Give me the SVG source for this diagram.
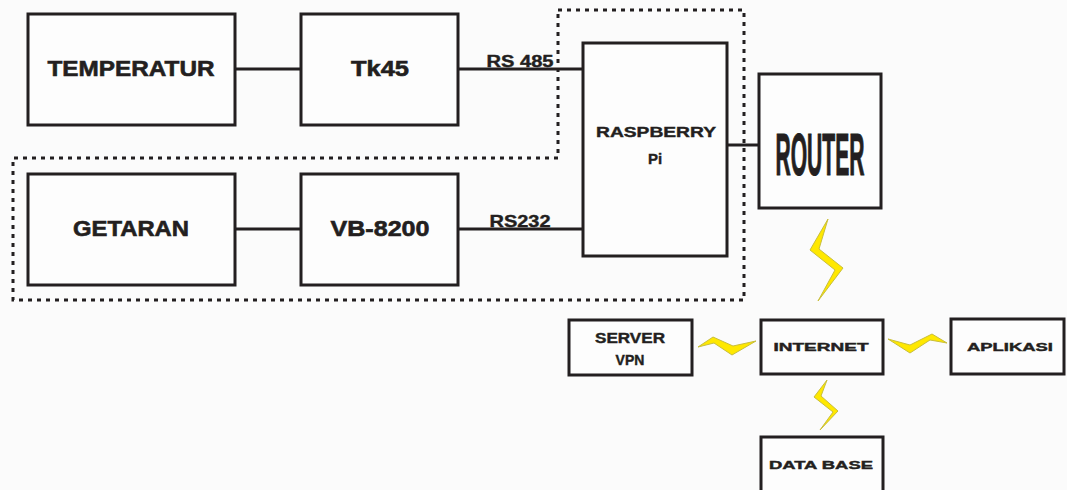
<svg xmlns="http://www.w3.org/2000/svg" width="1067" height="490" viewBox="0 0 1067 490">
<style>
.box{fill:#fdfdfd;stroke:#231f20;stroke-width:3}
.ln{stroke:#231f20;stroke-width:3;fill:none}
.dot{stroke:#231f20;stroke-width:3;fill:none;stroke-dasharray:4 5}
.t{font-family:"Liberation Sans",Arial,sans-serif;font-weight:bold;fill:#231f20;stroke:#231f20;stroke-width:0.6;text-anchor:middle}
.s{stroke-width:0.4}
.bolt{fill:#ffe800;stroke:#c8be3c;stroke-width:1}
</style>
<rect width="1067" height="490" fill="#fbfbfb"/>
<g id="group-boundary">
<path class="dot" d="M558,10 L744,10 L744,300 L13,300 L13,158 L558,158 Z"/>
</g>
<g id="connectors">
<line class="ln" x1="235" y1="69" x2="301" y2="69"/>
<line class="ln" x1="458" y1="69" x2="583" y2="69"/>
<line class="ln" x1="235" y1="229" x2="301" y2="229"/>
<line class="ln" x1="458" y1="229" x2="583" y2="229"/>
<line class="ln" x1="727" y1="145" x2="759" y2="145"/>
<text class="t s" x="520" y="67" font-size="16" textLength="67" lengthAdjust="spacingAndGlyphs">RS 485</text>
<text class="t s" x="520" y="227" font-size="17" textLength="61" lengthAdjust="spacingAndGlyphs">RS232</text>
<polygon class="bolt" points="828,219 810,250 835,270 818,301 843,268 819,249"/>
<polygon class="bolt" points="698,347 713,337 733,346 756,341 732,355 714,343"/>
<polygon class="bolt" points="888,339 910,345 932,334 947,343 930,340 910,353"/>
<polygon class="bolt" points="827,380 814,397 833,412 820,430 838,411 821,396"/>
</g>
<g id="node-temperatur">
<rect class="box" x="28" y="14" width="207" height="111"/>
<text class="t" x="131" y="76" font-size="22" textLength="167" lengthAdjust="spacingAndGlyphs">TEMPERATUR</text>
</g>
<g id="node-tk45">
<rect class="box" x="301" y="14" width="157" height="111"/>
<text class="t" x="380" y="76" font-size="22" textLength="58" lengthAdjust="spacingAndGlyphs">Tk45</text>
</g>
<g id="node-getaran">
<rect class="box" x="28" y="174" width="207" height="111"/>
<text class="t" x="131" y="236" font-size="22" textLength="116" lengthAdjust="spacingAndGlyphs">GETARAN</text>
</g>
<g id="node-vb8200">
<rect class="box" x="301" y="174" width="157" height="111"/>
<text class="t" x="380" y="236" font-size="22" textLength="99" lengthAdjust="spacingAndGlyphs">VB-8200</text>
</g>
<g id="node-raspberry">
<rect class="box" x="583" y="43" width="144" height="213"/>
<text class="t s" x="656" y="137" font-size="15" textLength="120" lengthAdjust="spacingAndGlyphs">RASPBERRY</text>
<text class="t s" x="655" y="164" font-size="15">Pi</text>
</g>
<g id="node-router">
<rect class="box" x="759" y="74" width="122" height="134"/>
<text class="t" x="820" y="175" font-size="60" textLength="89" lengthAdjust="spacingAndGlyphs" style="font-family:'Liberation Sans Narrow','Liberation Sans',sans-serif;stroke-width:1.2">ROUTER</text>
</g>
<g id="node-server-vpn">
<rect class="box" x="569" y="320" width="123" height="55"/>
<text class="t s" x="630" y="343" font-size="14" textLength="70" lengthAdjust="spacingAndGlyphs">SERVER</text>
<text class="t s" x="630" y="365" font-size="14">VPN</text>
</g>
<g id="node-internet">
<rect class="box" x="761" y="320" width="122" height="54"/>
<text class="t s" x="821" y="351" font-size="11" textLength="95" lengthAdjust="spacingAndGlyphs">INTERNET</text>
</g>
<g id="node-aplikasi">
<rect class="box" x="951" y="319" width="113" height="55"/>
<text class="t s" x="1010" y="351" font-size="11" textLength="86" lengthAdjust="spacingAndGlyphs">APLIKASI</text>
</g>
<g id="node-database">
<rect class="box" x="761" y="437" width="122" height="58"/>
<text class="t s" x="821" y="469" font-size="11" textLength="104" lengthAdjust="spacingAndGlyphs">DATA BASE</text>
</g>
</svg>
